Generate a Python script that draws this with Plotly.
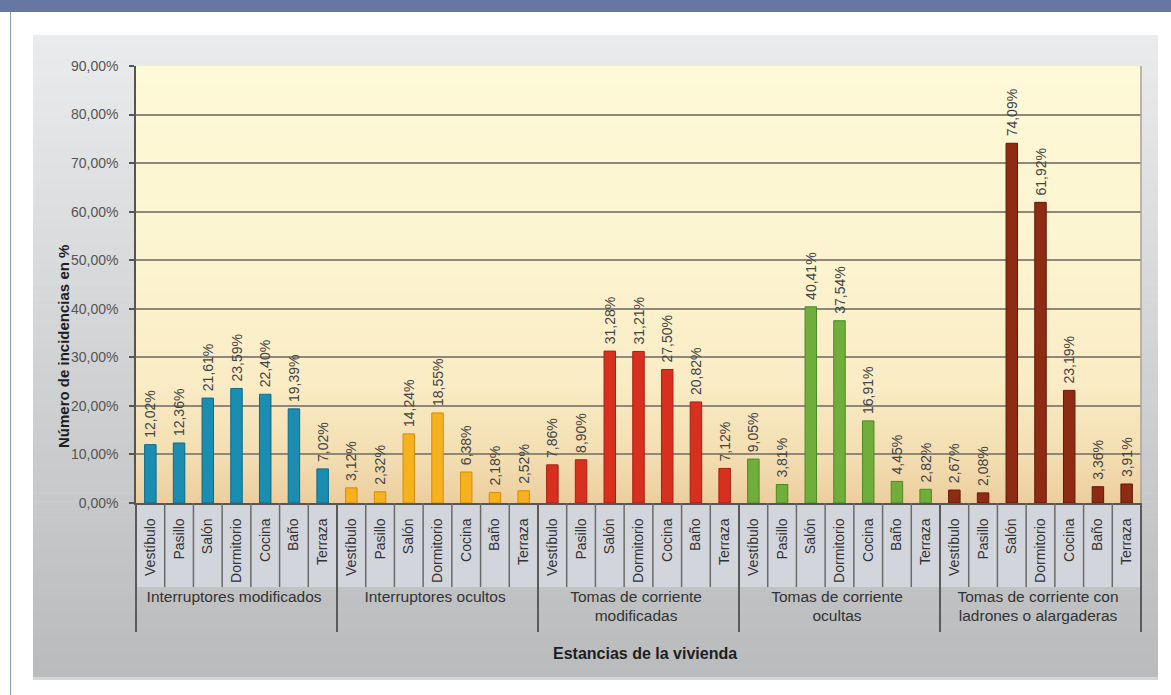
import plotly.graph_objects as go

# ---------------- data ----------------
groups = [
    "Interruptores modificados",
    "Interruptores ocultos",
    "Tomas de corriente<br>modificadas",
    "Tomas de corriente<br>ocultas",
    "Tomas de corriente con<br>ladrones o alargaderas",
]
rooms = ["Vestíbulo", "Pasillo", "Salón", "Dormitorio", "Cocina", "Baño", "Terraza"]

interruptores_modificados = [12.02, 12.36, 21.61, 23.59, 22.40, 19.39, 7.02]
interruptores_ocultos = [3.12, 2.32, 14.24, 18.55, 6.38, 2.18, 2.52]
tomas_modificadas = [7.86, 8.90, 31.28, 31.21, 27.50, 20.82, 7.12]
tomas_ocultas = [9.05, 3.81, 40.41, 37.54, 16.91, 4.45, 2.82]
tomas_ladrones = [2.67, 2.08, 74.09, 61.92, 23.19, 3.36, 3.91]

series = [interruptores_modificados, interruptores_ocultos, tomas_modificadas,
          tomas_ocultas, tomas_ladrones]
bar_colors = ["#1b8db0", "#f6b11e", "#d8301f", "#6fae3a", "#8d2c12"]
edge_colors = ["#106a88", "#d48d0c", "#a81f12", "#4d8a24", "#62190a"]

y_ticks = [0, 10, 20, 30, 40, 50, 60, 70, 80, 90]

# ---------------- geometry helpers ----------------
W, H = 1171, 695
L, R, T, B = 136, 1141, 66, 503
FONT = "Liberation Sans, Arial, sans-serif"
y_max = y_ticks[-1]


def px(x):
    return (x - L) / (R - L)


def py(y):
    return (B - y) / (B - T)


def lerp(c1, c2, t):
    return "rgb(%d,%d,%d)" % tuple(round(a + (b - a) * t) for a, b in zip(c1, c2))


def fmt(v):
    return ("%.2f" % v).replace(".", ",") + "%"


def big(label):
    return '<span style="font-size:15.5px">' + label + "</span>"


fig = go.Figure()

for g, vals, col, ecol in zip(groups, series, bar_colors, edge_colors):
    fig.add_trace(go.Bar(
        x=[[big(g)] * len(rooms), rooms],
        y=vals,
        width=0.4,
        marker=dict(color=col, line=dict(color=ecol, width=1)),
        text=["\u00a0" + fmt(v) for v in vals],
        textposition="outside",
        textangle=-90,
        constraintext="none",
        cliponaxis=False,
        textfont=dict(family=FONT, size=14, color="#444444"),
        showlegend=False,
        hoverinfo="skip",
    ))

shapes = []

# header band
shapes.append(dict(type="rect", xref="paper", yref="paper", layer="below",
                   x0=px(0), x1=px(W), y0=py(0), y1=py(12),
                   fillcolor="#6577a2", line=dict(width=0)))
# left page border
shapes.append(dict(type="line", xref="paper", yref="paper", layer="below",
                   x0=px(10.5), x1=px(10.5), y0=py(12), y1=py(H),
                   line=dict(color="#8598c8", width=1)))

# gray chart panel gradient
top_c, bot_c = (234, 235, 237), (185, 187, 189)
y0p, y1p = 35, 678
n = 80
for i in range(n):
    a = y0p + (y1p - y0p) * i / n
    b = y0p + (y1p - y0p) * (i + 1) / n + 0.6
    shapes.append(dict(type="rect", xref="paper", yref="paper", layer="below",
                       x0=px(33), x1=px(1158), y0=py(a), y1=py(min(b, y1p)),
                       fillcolor=lerp(top_c, bot_c, i / (n - 1)), line=dict(width=0)))
shapes.append(dict(type="rect", xref="paper", yref="paper", layer="below",
                   x0=px(33), x1=px(1158), y0=py(677), y1=py(680),
                   fillcolor="#d3d6da", line=dict(width=0)))

# light band behind the room labels
shapes.append(dict(type="rect", xref="paper", yref="paper", layer="below",
                   x0=0, x1=1, y0=py(503), y1=py(587),
                   fillcolor="#d3d5dd", line=dict(width=0)))

# plot-area gradient (pale yellow to tan)
stops = [(0, (236, 206, 158)), (10, (243, 222, 178)), (25, (250, 236, 197)),
         (50, (252, 244, 208)), (90, (254, 249, 215))]


def bg_at(v):
    for (v0, c0), (v1, c1) in zip(stops[:-1], stops[1:]):
        if v0 <= v <= v1:
            return lerp(c0, c1, (v - v0) / (v1 - v0))
    return lerp(stops[-1][1], stops[-1][1], 0)


nb = 180
for i in range(nb):
    v0 = y_max * i / nb
    v1 = y_max * (i + 1) / nb
    shapes.append(dict(type="rect", xref="paper", yref="paper", layer="below",
                       x0=0, x1=1, y0=v0 / y_max, y1=min(1, v1 / y_max + 0.002),
                       fillcolor=bg_at((v0 + v1) / 2), line=dict(width=0)))

# dividers between room labels and longer ones between groups
ncat = len(groups) * len(rooms)
for k in range(0, ncat + 1):
    if k % len(rooms) == 0:
        shapes.append(dict(type="line", xref="paper", yref="paper", layer="above",
                           x0=k / ncat, x1=k / ncat, y0=py(503), y1=py(632),
                           line=dict(color="#5a5a5a", width=2)))
    else:
        shapes.append(dict(type="line", xref="paper", yref="paper", layer="above",
                           x0=k / ncat, x1=k / ncat, y0=py(503), y1=py(587),
                           line=dict(color="#6a6a6a", width=1.5)))

# right border of plot
shapes.append(dict(type="line", xref="paper", yref="paper", layer="above",
                   x0=1, x1=1, y0=0, y1=1, line=dict(color="#a8a29a", width=1.5)))

annotations = [
    dict(text="<b>Número de incidencias en %</b>", xref="paper", yref="paper",
         x=px(63), y=py(347), textangle=-90, showarrow=False,
         font=dict(family=FONT, size=15, color="#1e1e1e"),
         xanchor="center", yanchor="middle"),
    dict(text="<b>Estancias de la vivienda</b>", xref="paper", yref="paper",
         x=px(645), y=py(653), showarrow=False,
         font=dict(family=FONT, size=16, color="#1e1e1e"),
         xanchor="center", yanchor="middle"),
]

fig.update_layout(
    width=W, height=H,
    margin=dict(l=L, r=W - R, t=T, b=H - B, pad=0),
    paper_bgcolor="white",
    plot_bgcolor="rgba(0,0,0,0)",
    barmode="overlay",
    font=dict(family=FONT, color="#444444"),
    shapes=shapes,
    annotations=annotations,
    xaxis=dict(
        type="multicategory",
        tickangle=-90,
        tickfont=dict(family=FONT, size=14, color="#333333"),
        showdividers=True,
        dividercolor="#5a5a5a",
        dividerwidth=2,
        showline=True, linecolor="#555555", linewidth=1.5,
        showgrid=False, ticks="",
        ticklabelstandoff=8,
    ),
    yaxis=dict(
        range=[0, y_max],
        tickvals=y_ticks,
        ticktext=[fmt(v) for v in y_ticks],
        tickfont=dict(family=FONT, size=14, color="#555555"),
        showgrid=True, gridcolor="#8f877a", gridwidth=1.5,
        showline=True, linecolor="#555555", linewidth=1.5,
        ticks="outside", ticklen=5, tickcolor="#555555", tickwidth=1.5,
        ticklabelstandoff=8,
        zeroline=False,
    ),
)

fig.write_html("out.html")
